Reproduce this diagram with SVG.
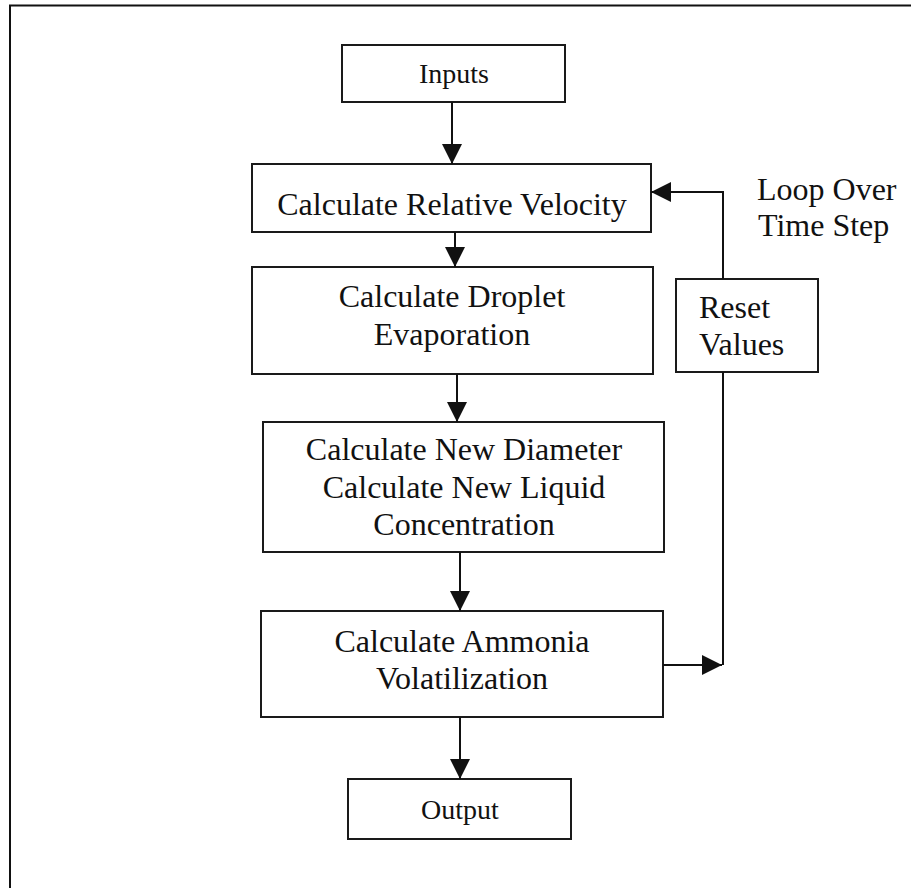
<svg xmlns="http://www.w3.org/2000/svg" width="911" height="888" viewBox="0 0 911 888">
<style>
.box{fill:#fff;stroke:#1a1a1a;stroke-width:2}
.t{font-family:"Liberation Serif","Times New Roman",serif;font-size:32px;fill:#111;text-anchor:middle}
.ts{font-family:"Liberation Serif","Times New Roman",serif;font-size:28px;fill:#111;text-anchor:middle}
.tl{font-family:"Liberation Serif","Times New Roman",serif;font-size:32px;fill:#111}
.ln{fill:none;stroke:#111;stroke-width:2}
</style>
<defs>
<marker id="ah" markerWidth="20" markerHeight="20" refX="20" refY="10" orient="auto" markerUnits="userSpaceOnUse" viewBox="0 0 20 20">
<path d="M0,0 L20,10 L0,20 Z" fill="#111"/>
</marker>
</defs>
<rect width="911" height="888" fill="#fff"/>
<g id="frame">
<path class="ln" d="M10,888 V5.5 H911"/>
</g>
<g id="inputs">
<rect class="box" x="342" y="45" width="223" height="57"/>
<text class="ts" x="454" y="83">Inputs</text>
</g>
<g id="relvel">
<rect class="box" x="252" y="164" width="399" height="68"/>
<text class="t" x="452" y="215">Calculate Relative Velocity</text>
</g>
<g id="evap">
<rect class="box" x="252" y="267" width="401" height="107"/>
<text class="t" x="452" y="307">Calculate Droplet</text>
<text class="t" x="452" y="345">Evaporation</text>
</g>
<g id="newdiam">
<rect class="box" x="263" y="422" width="401" height="130"/>
<text class="t" x="464" y="460">Calculate New Diameter</text>
<text class="t" x="464" y="498">Calculate New Liquid</text>
<text class="t" x="464" y="535">Concentration</text>
</g>
<g id="ammonia">
<rect class="box" x="261" y="611" width="402" height="106"/>
<text class="t" x="462" y="652">Calculate Ammonia</text>
<text class="t" x="462" y="689">Volatilization</text>
</g>
<g id="output">
<rect class="box" x="348" y="779" width="223" height="60"/>
<text class="ts" x="460" y="819">Output</text>
</g>
<g id="reset">
<rect class="box" x="676" y="279" width="142" height="93"/>
<text class="tl" x="699" y="318">Reset</text>
<text class="tl" x="699" y="355">Values</text>
</g>
<g id="looplabel">
<text class="tl" x="757" y="200">Loop Over</text>
<text class="tl" x="758" y="236">Time Step</text>
</g>
<g id="connectors">
<path class="ln" d="M452,102 V164" marker-end="url(#ah)"/>
<path class="ln" d="M455,232 V267" marker-end="url(#ah)"/>
<path class="ln" d="M457,374 V422" marker-end="url(#ah)"/>
<path class="ln" d="M460,552 V611" marker-end="url(#ah)"/>
<path class="ln" d="M460,717 V779" marker-end="url(#ah)"/>
<path class="ln" d="M663,665 H722" marker-end="url(#ah)"/>
<path class="ln" d="M723,665 V372"/>
<path class="ln" d="M723,279 V192 H651" marker-end="url(#ah)"/>
</g>
</svg>
